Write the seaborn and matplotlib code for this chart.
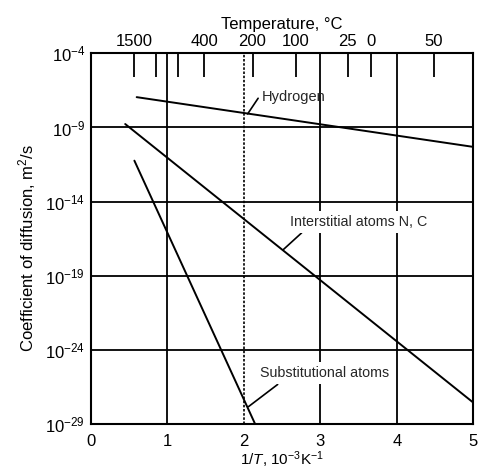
import numpy as np
import pandas as pd
import matplotlib
matplotlib.use("Agg")
import matplotlib.pyplot as plt
import seaborn as sns

# ---- data ----
hydrogen_x = [0.60, 5.00]
hydrogen_D = [1.1e-7, 4.9e-11]
interstitial_x = [0.45, 5.00]
interstitial_D = [1.7e-9, 2.9e-28]
substitutional_x = [0.57, 2.15]
substitutional_D = [5.8e-12, 1.0e-29]

x_ticks = [0, 1, 2, 3, 4, 5]
y_ticks = [1e-4, 1e-9, 1e-14, 1e-19, 1e-24, 1e-29]
y_tick_labels = [r"10$^{-4}$", r"10$^{-9}$", r"10$^{-14}$", r"10$^{-19}$", r"10$^{-24}$", r"10$^{-29}$"]
temp_C = [1500, 900, 600, 400, 200, 100, 25, 0, -50]
temp_labels = ["1500", "", "", "400", "200", "100", "25", "0", "50"]

sns.set_theme(style="white")
plt.rcParams["font.family"] = ["Liberation Sans", "DejaVu Sans"]
plt.rcParams["mathtext.fontset"] = "custom"
plt.rcParams["mathtext.rm"] = "Liberation Sans"
plt.rcParams["mathtext.it"] = "Liberation Sans:italic"
plt.rcParams["mathtext.bf"] = "Liberation Sans:bold"

df = pd.concat([
    pd.DataFrame({"x": hydrogen_x, "D": hydrogen_D, "s": "Hydrogen"}),
    pd.DataFrame({"x": interstitial_x, "D": interstitial_D, "s": "Interstitial"}),
    pd.DataFrame({"x": substitutional_x, "D": substitutional_D, "s": "Substitutional"}),
])

fig = plt.figure(figsize=(4.88, 4.71), dpi=100)
ax = fig.add_axes([0.186, 0.099, 0.784, 0.788])

# grid lines
for yv in y_ticks[1:-1]:
    ax.axhline(yv, color="black", lw=1.3, zorder=1)
for xv in [1, 3, 4]:
    ax.axvline(xv, color="black", lw=1.3, zorder=1)
ax.axvline(2, color="black", lw=1.2, ls=(0, (1.5, 1.0)), zorder=1)

sns.lineplot(data=df, x="x", y="D", units="s", estimator=None, color="black",
             lw=1.4, ax=ax, zorder=3, legend=False)

ax.set_yscale("log")
ax.set_xlim(0, 5)
ax.set_ylim(1e-29, 1e-4)
ax.set_xticks(x_ticks)
ax.set_xticklabels([str(v) for v in x_ticks], fontsize=12)
ax.set_yticks(y_ticks)
ax.set_yticklabels(y_tick_labels, fontsize=12)
ax.yaxis.set_minor_locator(matplotlib.ticker.NullLocator())
ax.tick_params(axis="x", length=0, pad=7, colors="black")
ax.tick_params(axis="y", length=3, width=1.2, pad=1, colors="black", direction="out")
for sp in ax.spines.values():
    sp.set_linewidth(1.5)
    sp.set_color("black")

ax.set_xlabel(r"1/$\mathit{T}$, 10$^{-3}$K$^{-1}$", fontsize=11, color="black", va="center")
ax.xaxis.set_label_coords(0.5, -0.095)
ax.set_ylabel(r"Coefficient of diffusion, m$^{2}$/s", fontsize=12, color="black", va="center")
ax.yaxis.set_label_coords(-0.167, 0.475)

# top temperature axis
top = ax.twiny()
top.set_xlim(0, 5)
top.set_xticks(1000.0 / (np.array(temp_C) + 273.0))
top.set_xticklabels(temp_labels, fontsize=12)
top.tick_params(axis="x", direction="in", length=17, width=1.3, pad=3, colors="black")
top.set_xlabel("Temperature, °C", fontsize=12, labelpad=4, color="black")
for sp in top.spines.values():
    sp.set_visible(False)

# annotations
box = dict(facecolor="white", edgecolor="none", pad=3)
ax.annotate("Hydrogen", xy=(2.05, 10**-8.09), xytext=(2.23, 10**-6.94),
            fontsize=10.5, va="center", ha="left", zorder=4,
            arrowprops=dict(arrowstyle="-", color="black", lw=1.2, shrinkA=0, shrinkB=0,
                            relpos=(0.0, 0.75)))
ax.annotate("Interstitial atoms N, C", xy=(2.52, 10**-17.21), xytext=(2.60, 10**-15.35),
            fontsize=10.3, va="center", ha="left", zorder=4, bbox=box,
            arrowprops=dict(arrowstyle="-", color="black", lw=1.2, shrinkA=0, shrinkB=0,
                            relpos=(0.12, 0.0)))
ax.annotate("Substitutional atoms", xy=(2.06, 10**-27.81), xytext=(2.21, 10**-25.56),
            fontsize=10.3, va="center", ha="left", zorder=4, bbox=box,
            arrowprops=dict(arrowstyle="-", color="black", lw=1.2, shrinkA=0, shrinkB=0,
                            relpos=(0.18, 0.0)))

fig.savefig("out.png", dpi=100)
